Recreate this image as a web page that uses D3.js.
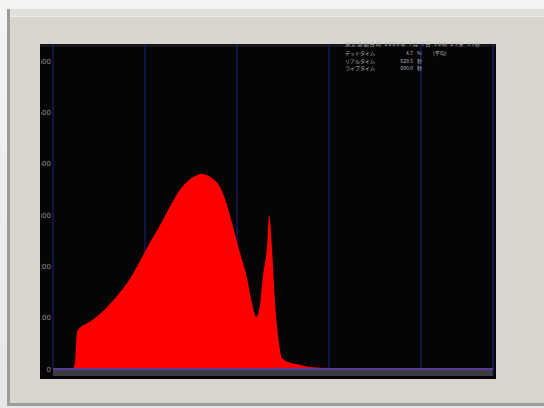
<!DOCTYPE html>
<html>
<head>
<meta charset="utf-8">
<script src="https://cdn.jsdelivr.net/npm/d3@7"></script>
<style>
  html, body { margin: 0; padding: 0; background: #eeeeee; }
  svg { display: block; }
</style>
</head>
<body>
<svg id="chart" width="544" height="408"></svg>
<script>
// Pulse-height spectrum: channel numbers and counts per channel
const channels = [0, 20, 22, 24, 25, 26, 27, 29, 40, 51, 62, 73, 84, 95, 105, 116, 127, 138, 149, 162,
                  171, 182, 189, 196, 203, 211, 216, 221, 225, 228, 233, 235, 238, 241, 245, 249, 258, 269, 279, 301, 478];
const counts   = [0, 0, 2, 14, 47, 70, 76, 80, 92, 107, 127, 150, 177, 212, 245, 279, 316, 349, 370, 380,
                  374, 353, 320, 275, 228, 177, 131, 101, 125, 177, 247, 300, 236, 138, 60, 21, 12, 8, 4, 2, 0];

// Axis ticks
const yTicks = [0, 100, 200, 300, 400, 500, 600];
const xGrid = [0, 100, 200, 300, 400];

// Measurement info block: label, value, unit, note
const infoTitle = "測定開始日時 2009年 7月 7日 10時 23分 33秒";
const infoLabels = ["デッドタイム", "リアルタイム", "ライブタイム"];
const infoValues = ["4.7", "629.5", "600.0"];
const infoUnits  = ["%", "秒", "秒"];
const infoNotes  = ["(平均)", "", ""];

const svg = d3.select("#chart");

// Page background and instrument bezel
const defs = svg.append("defs");
const bg = defs.append("linearGradient").attr("id", "bg").attr("x1", 0).attr("y1", 0).attr("x2", 0).attr("y2", 1);
bg.append("stop").attr("offset", 0).attr("stop-color", "#f4f4f4");
bg.append("stop").attr("offset", 1).attr("stop-color", "#e6e6e6");
svg.append("rect").attr("width", 544).attr("height", 408).attr("fill", "url(#bg)");

svg.append("rect").attr("x", 7).attr("y", 9).attr("width", 537).attr("height", 397).attr("fill", "#9c9c98");
svg.append("rect").attr("x", 10).attr("y", 9).attr("width", 534).attr("height", 394).attr("fill", "#d8d6cf");
svg.append("rect").attr("x", 10).attr("y", 9).attr("width", 534).attr("height", 7).attr("fill", "#e2e0da");
svg.append("rect").attr("x", 10).attr("y", 16).attr("width", 534).attr("height", 1).attr("fill", "#eeece6");

// Screen area
const screen = { x: 40, y: 44, w: 456, h: 335 };
svg.append("rect").attr("x", screen.x).attr("y", screen.y).attr("width", screen.w).attr("height", screen.h)
  .attr("fill", "#050505");
svg.append("rect").attr("x", screen.x).attr("y", screen.y).attr("width", screen.w).attr("height", 3)
  .attr("fill", "#161616");

defs.append("clipPath").attr("id", "scr").append("rect")
  .attr("x", screen.x + 1).attr("y", screen.y).attr("width", screen.w - 1).attr("height", screen.h);

const x = d3.scaleLinear().domain([0, 500]).range([53, 513]);
const y = d3.scaleLinear().domain([0, 600]).range([369, 61]);
const xRight = 493;

const g = svg.append("g").attr("clip-path", "url(#scr)");

// Bottom bevel strip under the baseline
g.append("rect").attr("x", 53).attr("y", 370).attr("width", xRight - 53).attr("height", 6).attr("fill", "#3c3c40");

// Vertical grid lines
g.selectAll("line.grid").data(xGrid).join("line").attr("class", "grid")
  .attr("x1", d => x(d)).attr("x2", d => x(d))
  .attr("y1", screen.y).attr("y2", y(0))
  .attr("stroke", "#1c1c78").attr("stroke-width", 1.2);
g.append("line").attr("x1", xRight).attr("x2", xRight).attr("y1", screen.y).attr("y2", y(0) + 6)
  .attr("stroke", "#1c1c6a").attr("stroke-width", 1.5);

// Spectrum
const pts = channels.map((c, i) => [c, counts[i]]);
const area = d3.area().x(d => x(d[0])).y0(y(0)).y1(d => y(d[1])).curve(d3.curveMonotoneX);
g.append("path").datum(pts).attr("d", area).attr("fill", "#ff0000");

// Baseline
g.append("line").attr("x1", 53).attr("x2", xRight).attr("y1", y(0)).attr("y2", y(0))
  .attr("stroke", "#5a3c94").attr("stroke-width", 2);

// Y axis labels
const yAxis = d3.axisLeft(y).tickValues(yTicks).tickSize(0).tickPadding(1).tickFormat(d3.format("d"));
const ya = g.append("g").attr("transform", "translate(52,0)").call(yAxis);
ya.select(".domain").remove();
ya.selectAll("text").attr("fill", "#8e8e8e").attr("font-family", "DejaVu Sans, sans-serif").attr("font-size", 7);

// Measurement info
const info = svg.append("g").attr("font-family", "Noto Sans CJK JP, sans-serif").attr("font-size", 5)
  .attr("fill", "#b8b8b8");
info.append("text").attr("x", 345).attr("y", 46).attr("textLength", 135)
  .attr("lengthAdjust", "spacing").text(infoTitle);
infoLabels.forEach((lab, i) => {
  const yy = 55 + i * 7.5;
  info.append("text").attr("x", 345).attr("y", yy).text(lab);
  info.append("text").attr("x", 413).attr("y", yy).attr("text-anchor", "end").text(infoValues[i]);
  info.append("text").attr("x", 417).attr("y", yy).text(infoUnits[i]);
  if (infoNotes[i]) info.append("text").attr("x", 433).attr("y", yy).text(infoNotes[i]);
});
</script>
</body>
</html>
